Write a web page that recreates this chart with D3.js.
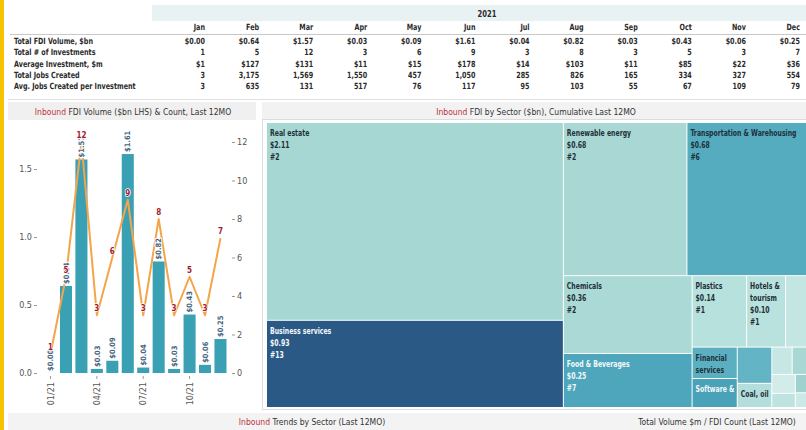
<!DOCTYPE html>
<html>
<head>
<meta charset="utf-8">
<script src="https://cdn.jsdelivr.net/npm/d3@7"></script>
<style>
  body { margin: 0; background: #fff; }
  svg { display: block; font-family: "Liberation Sans Narrow", "DejaVu Sans Condensed", sans-serif; }
</style>
</head>
<body>
<div id="canvas"></div>
<script>
// monthly data (2021)
const months = ["Jan", "Feb", "Mar", "Apr", "May", "Jun", "Jul", "Aug", "Sep", "Oct", "Nov", "Dec"];
const fdiVolume = [0.00, 0.64, 1.57, 0.03, 0.09, 1.61, 0.04, 0.82, 0.03, 0.43, 0.06, 0.25];
const investCount = [1, 5, 12, 3, 6, 9, 3, 8, 3, 5, 3, 7];
const avgInvestment = [1, 127, 131, 11, 15, 178, 14, 103, 11, 85, 22, 36];
const jobsCreated = [3, 3175, 1569, 1550, 457, 1050, 285, 826, 165, 334, 327, 554];
const avgJobs = [3, 635, 131, 517, 76, 117, 95, 103, 55, 67, 109, 79];
const tickMonths = ["Jan", "Apr", "Jul", "Oct"];
const tickLabels = ["01/21", "04/21", "07/21", "10/21"];

// sector data, cumulative last 12 months
const sectorNames = ["Real estate", "Business services", "Renewable energy", "Transportation & Warehousing",
  "Chemicals", "Food & Beverages", "Plastics", "Hotels & tourism", "Automotive components",
  "Financial services", "Software & IT services", "Communications", "Coal, oil & gas",
  "Electronic components", "Industrial equipment", "Consumer products", "Metals", "Textiles", "Healthcare"];
const sectorVolume = [2.11, 0.93, 0.68, 0.68, 0.36, 0.25, 0.14, 0.10, 0.064, 0.051, 0.047, 0.045, 0.030,
  0.020, 0.018, 0.016, 0.012, 0.010, 0.008];
const sectorCount = [2, 13, 2, 6, 2, 7, 1, 1, 1, 2, 2, 1, 1, 1, 1, 1, 1, 1, 1];
const sectorColors = ["#a7d7d3", "#2b5985", "#a9d8d4", "#56acbf", "#abdad6", "#4da6bb", "#b7e1dd",
  "#b9e2de", "#c3e6e2", "#5cafc1", "#4aa2b8", "#63b4c4", "#b4dedb", "#c6e7e4", "#a9d8d4",
  "#d2ecea", "#bfe3e0", "#9fd2ce", "#cbe9e6"];

const width = 806;
const height = 430;
const dark = "#2b2b2b";
const red = "#c0303a";
const squeeze = 0.84; // narrow the condensed font a bit more
const tmSqueeze = 0.72;

const svg = d3.select("#canvas").append("svg")
  .attr("width", width)
  .attr("height", height);

// yellow stripe on the left
svg.append("rect").attr("x", 0).attr("y", 0).attr("width", 4).attr("height", height).attr("fill", "#f7c300");

// ---------- table ----------
const table = svg.append("g");
table.append("rect").attr("x", 152).attr("y", 5).attr("width", width - 152).attr("height", 16).attr("fill", "#e8f2f2");
table.append("text").attr("transform", `translate(487,17) scale(${squeeze},1)`).attr("text-anchor", "middle")
  .attr("font-size", 9).attr("font-weight", "bold").attr("fill", dark).text("2021");

const col = d3.scalePoint().domain(months).range([205, 800]);

table.selectAll(".mon").data(months).enter().append("text")
  .attr("transform", (d) => `translate(${col(d)},30) scale(${squeeze},1)`).attr("text-anchor", "end")
  .attr("font-size", 8.5).attr("font-weight", "bold").attr("fill", dark).text((d) => d);

table.append("line").attr("x1", 10).attr("x2", width).attr("y1", 34.5).attr("y2", 34.5)
  .attr("stroke", "#c8c8c8");

const fmtComma = d3.format(",");
const rows = [
  { label: "Total FDI Volume, $bn", vals: fdiVolume.map((v) => "$" + v.toFixed(2)) },
  { label: "Total # of Investments", vals: investCount.map(String) },
  { label: "Average Investment, $m", vals: avgInvestment.map((v) => "$" + v) },
  { label: "Total Jobs Created", vals: jobsCreated.map(fmtComma) },
  { label: "Avg. Jobs Created per Investment", vals: avgJobs.map(String) },
];
const rowY = d3.scalePoint().domain(d3.range(rows.length)).range([44, 89]);

rows.forEach((r, i) => {
  const g = table.append("g").attr("transform", `translate(0,${rowY(i)})`);
  g.append("text").attr("transform", `translate(14,0) scale(${squeeze},1)`).attr("font-size", 8.5)
    .attr("font-weight", "bold").attr("fill", dark).text(r.label);
  g.selectAll(".v").data(r.vals).enter().append("text")
    .attr("transform", (d, j) => `translate(${col(months[j])},0) scale(${squeeze},1)`).attr("text-anchor", "end")
    .attr("font-size", 8.5).attr("font-weight", "bold").attr("fill", dark).text((d) => d);
});

table.append("line").attr("x1", 8).attr("x2", width).attr("y1", 99.5).attr("y2", 99.5)
  .attr("stroke", "#e0e0e0");

// section title helper
function title(x, y, rest) {
  const t = svg.append("text").attr("x", x).attr("y", y).attr("text-anchor", "middle")
    .attr("font-size", 8.5).attr("fill", "#333");
  t.append("tspan").attr("fill", red).text("Inbound");
  t.append("tspan").text(rest);
}

svg.append("rect").attr("x", 8).attr("y", 102).attr("width", 248).attr("height", 18).attr("fill", "#f0f0f0");
svg.append("rect").attr("x", 262).attr("y", 102).attr("width", width - 262).attr("height", 17).attr("fill", "#f2f2f2");
title(133, 115, " FDI Volume ($bn LHS) & Count, Last 12MO");
title(536, 115, " FDI by Sector ($bn), Cumulative Last 12MO");

svg.append("rect").attr("x", 8).attr("y", 413).attr("width", width - 8).attr("height", 17).attr("fill", "#f3f3f3");
title(312, 425, " Trends by Sector (Last 12MO)");
svg.append("text").attr("x", 717).attr("y", 425).attr("text-anchor", "middle")
  .attr("font-size", 8.5).attr("fill", "#333").text("Total Volume $m / FDI Count (Last 12MO)");

// ---------- combo chart ----------
const monthly = months.map((m, i) => ({ month: m, vol: fdiVolume[i], count: investCount[i] }));

const x = d3.scaleBand().domain(months).range([42.8, 228.2]).paddingInner(0.22).paddingOuter(0.11);
const yL = d3.scaleLinear().domain([0, 1.5]).range([373, 169]);
const yR = d3.scaleLinear().domain([0, 12]).range([373, 142]);

const chart = svg.append("g");

chart.selectAll(".bar").data(monthly).enter().append("rect")
  .attr("x", (d) => x(d.month))
  .attr("y", (d) => yL(d.vol))
  .attr("width", x.bandwidth())
  .attr("height", (d) => yL(0) - yL(d.vol))
  .attr("fill", "#3aa1b5");

chart.append("path").datum(monthly)
  .attr("fill", "none")
  .attr("stroke", "#f5a548")
  .attr("stroke-width", 2)
  .attr("stroke-linejoin", "round")
  .attr("d", d3.line().x((d) => x(d.month) + x.bandwidth() / 2).y((d) => yR(d.count)));

// bar value labels (vertical)
chart.selectAll(".blab").data(monthly).enter().append("text")
  .attr("transform", (d) => `translate(${x(d.month) + x.bandwidth() / 2},${yL(d.vol) - 2}) rotate(-90)`)
  .attr("dy", "0.35em")
  .attr("font-size", 7.5).attr("font-weight", "bold")
  .attr("fill", "#46657e").attr("stroke", "#fff").attr("stroke-width", 2)
  .attr("paint-order", "stroke")
  .text((d) => "$" + d.vol.toFixed(2));

// count labels
chart.selectAll(".clab").data(monthly).enter().append("text")
  .attr("x", (d) => x(d.month) + x.bandwidth() / 2)
  .attr("y", (d) => yR(d.count) - 4)
  .attr("text-anchor", "middle")
  .attr("font-size", 8).attr("font-weight", "bold")
  .attr("fill", "#a3192f").attr("stroke", "#fff").attr("stroke-width", 1.5)
  .attr("paint-order", "stroke")
  .text((d) => d.count);

function styleAxis(g) {
  g.select(".domain").remove();
  g.selectAll("line").attr("stroke", "#999");
  g.selectAll("text").attr("fill", "#555").attr("font-size", 9)
    .attr("font-family", "'Liberation Sans Narrow', 'DejaVu Sans Condensed', sans-serif");
}

chart.append("g").attr("transform", "translate(37,0)")
  .call(d3.axisLeft(yL).tickValues([0, 0.5, 1, 1.5]).tickFormat(d3.format(".1f")).tickSize(3).tickPadding(2))
  .call(styleAxis);

chart.append("g").attr("transform", "translate(232,0)")
  .call(d3.axisRight(yR).tickValues(d3.range(0, 13, 2)).tickSize(3).tickPadding(2))
  .call(styleAxis);

const xAxis = chart.append("g").attr("transform", "translate(0,376)")
  .call(d3.axisBottom(x).tickValues(tickMonths).tickFormat((d) => tickLabels[tickMonths.indexOf(d)]).tickSize(3))
  .call(styleAxis);
xAxis.selectAll("text")
  .attr("transform", "rotate(-90)")
  .attr("text-anchor", "end")
  .attr("x", -6).attr("y", 0).attr("dy", "0.35em");

// ---------- treemap ----------
svg.append("rect").attr("x", 262.5).attr("y", 119.5).attr("width", width - 262).attr("height", 290)
  .attr("fill", "#fff").attr("stroke", "#dcdcdc");

const color = d3.scaleOrdinal().domain(sectorNames).range(sectorColors);

const root = d3.hierarchy({
  children: sectorNames.map((n, i) => ({ name: n, value: sectorVolume[i], count: sectorCount[i] })),
}).sum((d) => d.value || 0).sort((a, b) => b.value - a.value);

d3.treemap().tile(d3.treemapSquarify).size([543, 284]).paddingInner(1)(root);

const tm = svg.append("g").attr("transform", "translate(267,123)");
const clipW = width - 267;
tm.append("clipPath").attr("id", "tmclip").append("rect")
  .attr("x", 0).attr("y", 0).attr("width", clipW).attr("height", 284);

const cells = tm.append("g").attr("clip-path", "url(#tmclip)")
  .selectAll("g").data(root.leaves()).enter().append("g")
  .attr("transform", (d) => `translate(${d.x0},${d.y0})`);

cells.append("rect")
  .attr("width", (d) => d.x1 - d.x0)
  .attr("height", (d) => d.y1 - d.y0)
  .attr("fill", (d) => color(d.data.name));

const measure = svg.append("text").attr("font-size", 9.5).attr("font-weight", "bold").attr("visibility", "hidden");
function textWidth(s) {
  measure.text(s);
  return measure.node().getComputedTextLength() * tmSqueeze;
}

cells.each(function (d) {
  const w = d.x1 - d.x0;
  const h = d.y1 - d.y0;
  const avail = w - 4;
  const words = d.data.name.split(" ");
  if (textWidth(words[0]) > avail) return;
  const lines = [];
  let cur = "";
  words.forEach((wd) => {
    const test = cur ? cur + " " + wd : wd;
    if (textWidth(test) <= avail || !cur) cur = test;
    else { lines.push(cur); cur = wd; }
  });
  if (cur) lines.push(cur);
  lines.push("$" + d.data.value.toFixed(2));
  lines.push("#" + d.data.count);
  const fill = d3.hsl(color(d.data.name)).l < 0.53 ? "#f4f8fa" : "#1f2f38";
  const t = d3.select(this).append("text")
    .attr("transform", `translate(3,0) scale(${tmSqueeze},1)`)
    .attr("font-size", 9.5).attr("font-weight", "bold").attr("fill", fill);
  lines.forEach((ln, i) => {
    const by = 13 + 12 * i;
    if (by + 4 > h) return;
    t.append("tspan").attr("x", 0).attr("y", by).text(ln);
  });
});
</script>
</body>
</html>
